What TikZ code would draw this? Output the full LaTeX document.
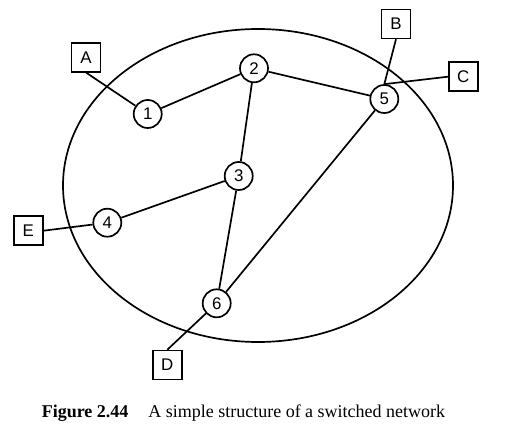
\documentclass[tikz,border=0pt]{standalone}
\usepackage{fontspec}
\setmainfont{Liberation Serif}
\setsansfont{Liberation Sans}
\begin{document}
\begin{tikzpicture}[x=0.025cm,y=-0.025cm]
                \tikzset{
                    switch/.style={draw, circle, line width=1.2pt, minimum size=0.7cm, inner sep=0pt, font=\sffamily\fontsize{12}{14}\selectfont},
                    station/.style={draw, rectangle, line width=1.2pt, minimum size=0.72cm, inner sep=0pt, font=\sffamily\fontsize{12}{14}\selectfont},
                    link/.style={-, line width=1.2pt}
                }
                \useasboundingbox (0,0) rectangle (505,432);

                \draw[line width=1.2pt] (258,185.5) ellipse [x radius=195, y radius=156.5];

                \draw node[switch, fill=white] (n1) at (147.7,114) {1};
                \draw node[switch, fill=white] (n2) at (254,68.3) {2};
                \draw node[switch, fill=white] (n3) at (238.7,176) {3};
                \draw node[switch, fill=white] (n4) at (107.3,222.7) {4};
                \draw node[switch, fill=white] (n5) at (384.3,99) {5};
                \draw node[switch, fill=white] (n6) at (216.7,303.3) {6};

                \draw node[station] (A) at (86,57.3) {A};
                \draw node[station] (B) at (396,24) {B};
                \draw node[station] (C) at (463.3,76.7) {C};
                \draw node[station] (D) at (167.3,365) {D};
                \draw node[station] (E) at (28.3,230.7) {E};

                \foreach \x/\y in {%
                    n1/n2,n2/n5,n2/n3,n3/n4,n3/n6,n5/n6%
                }{
                \draw (\x) edge[link] (\y);
                }
                \draw (A.south) edge[link] (n1);
                \draw (B.south) edge[link] (n5.north);
                \draw (C.west) edge[link] (n5.north);
                \draw (D.north) edge[link] (n6);
                \draw (E.east) edge[link] (n4);

                \draw node[font=\fontsize{12.8}{15}\selectfont] (caption) at (243.5,413) {\textbf{Figure 2.44}\hspace{1.1em}A simple structure of a switched network};
            \end{tikzpicture}
\end{document}
